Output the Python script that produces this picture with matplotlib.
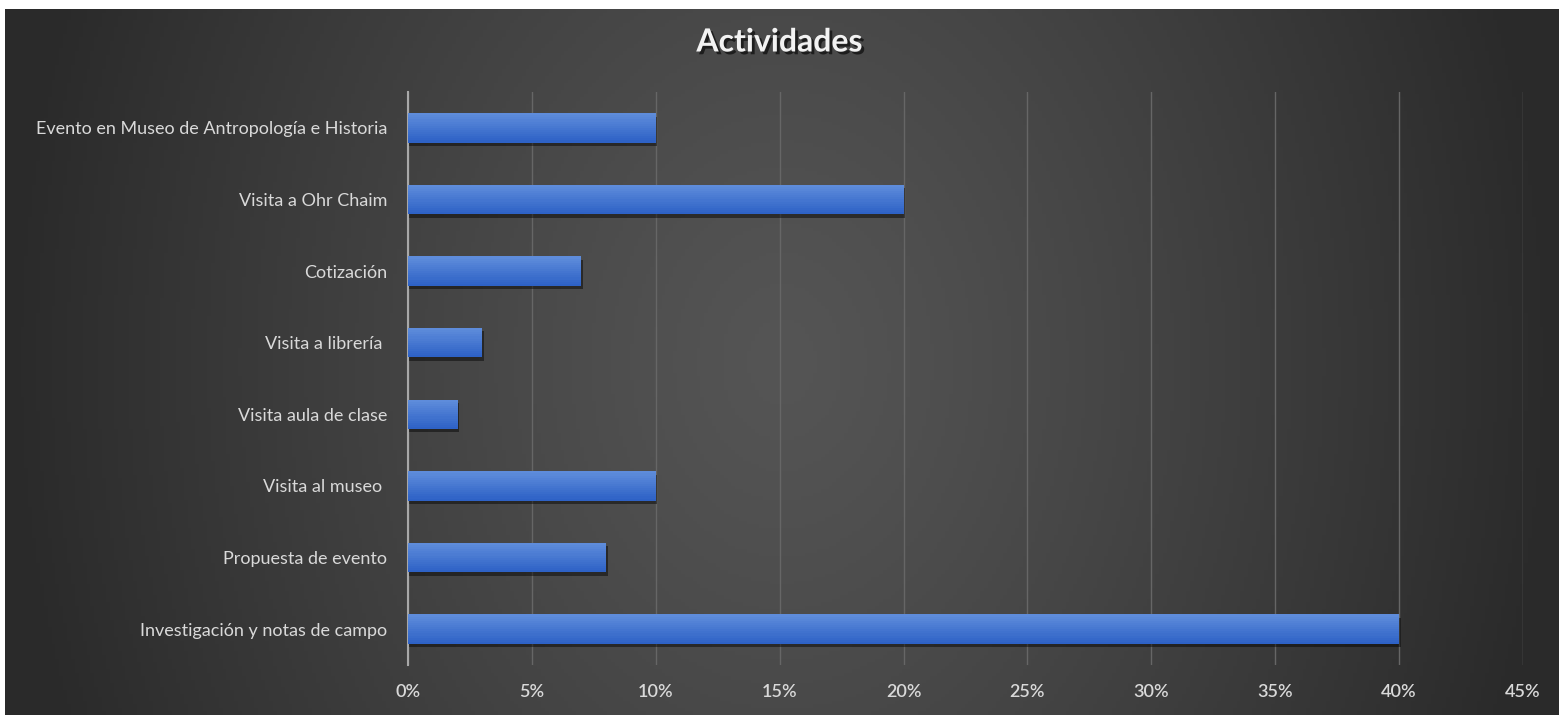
import numpy as np
import matplotlib
matplotlib.use('Agg')
import matplotlib.pyplot as plt
import matplotlib.patheffects as pe
from matplotlib.ticker import MultipleLocator, FuncFormatter

plt.rcParams['font.family'] = ['Lato', 'DejaVu Sans']

categorias = ['Investigación y notas de campo', 'Propuesta de evento',
              'Visita al museo ', 'Visita aula de clase', 'Visita a librería ',
              'Cotización', 'Visita a Ohr Chaim',
              'Evento en Museo de Antropología e Historia']
valores = [0.40, 0.08, 0.10, 0.02, 0.03, 0.07, 0.20, 0.10]

W, H = 1559, 715
fig = plt.figure(figsize=(W / 100, H / 100), dpi=100)
fig.patch.set_facecolor('white')

# fondo oscuro con degradado radial
bg = fig.add_axes([5 / W, 0, 1 - 5 / W, 1 - 9 / H], zorder=-1)
xx, yy = np.meshgrid(np.linspace(-1, 1, 400), np.linspace(-1, 1, 200))
r = np.sqrt(xx ** 2 + (yy * 0.35) ** 2)
r = np.clip(r / 1.0, 0, 1) ** 1.2
c_in = np.array([0x55, 0x55, 0x55]) / 255
c_out = np.array([0x2a, 0x2a, 0x2a]) / 255
img = c_in[None, None, :] * (1 - r[..., None]) + c_out[None, None, :] * r[..., None]
bg.imshow(img, aspect='auto', extent=[0, 1, 0, 1])
bg.set_axis_off()

ax = fig.add_axes([408 / W, 1 - 665 / H, (1523 - 408) / W, (665 - 92) / H])
ax.patch.set_alpha(0)

y = np.arange(len(categorias))
alto = 0.41
bars = ax.barh(y, valores, height=alto, color='#3d6fcf', edgecolor='none',
               zorder=3)
for b in bars:
    b.set_path_effects([pe.SimplePatchShadow(offset=(1, -2.5), shadow_rgbFace='black',
                                             alpha=0.45), pe.Normal()])

# degradado vertical dentro de cada barra
top_c = np.array([0x5e, 0x8c, 0xdb]) / 255
bot_c = np.array([0x2e, 0x62, 0xc6]) / 255
n = 14
for yi, v in zip(y, valores):
    for k in range(n):
        t = k / (n - 1)
        col = bot_c * (1 - t) + top_c * t
        ax.barh(yi - alto / 2 + alto * (k + 0.5) / n, v, height=alto / n * 1.05,
                color=col, edgecolor='none', zorder=3.5)

ax.set_xlim(0, 0.45)
ax.set_ylim(-0.5, len(categorias) - 0.5)
ax.xaxis.set_major_locator(MultipleLocator(0.05))
ax.xaxis.set_major_formatter(FuncFormatter(lambda v, p: f'{v * 100:.0f}%'))
ax.set_yticks(y)
ax.set_yticklabels(categorias)

ax.grid(axis='x', color='#666666', linewidth=1, zorder=0)
for s in ['top', 'right', 'bottom']:
    ax.spines[s].set_visible(False)
ax.spines['left'].set_color('#a8a8a8')
ax.spines['left'].set_linewidth(1.5)
ax.tick_params(axis='both', length=0, colors='#d9d9d9', labelsize=13)
ax.tick_params(axis='x', pad=14)
ax.tick_params(axis='y', pad=15)
for lbl in ax.get_xticklabels():
    lbl.set_fontweight('semibold')

fig.text(0.5, 1 - 42 / H, 'Actividades', ha='center', va='center',
         fontsize=23, fontweight='bold', color='#f2f2f2',
         path_effects=[pe.withSimplePatchShadow(offset=(2, -2),
                                                shadow_rgbFace='black',
                                                alpha=0.6)])

fig.savefig('out.png', dpi=100)
